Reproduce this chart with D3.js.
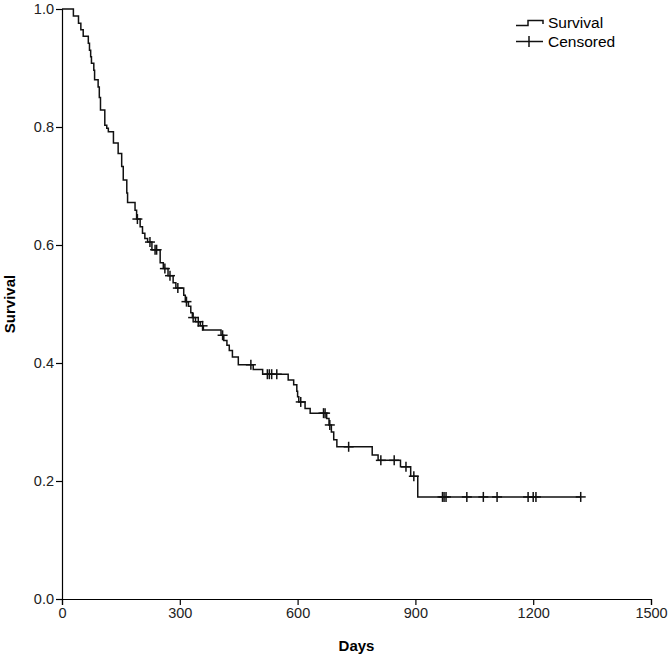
<!DOCTYPE html>
<html lang="en">
<head>
<meta charset="UTF-8">
<title>Survival curve</title>
<script src="https://d3js.org/d3.v7.min.js"></script>
<style>
    body { margin: 0; background: #fff; }
    svg { display: block; font-family: "Liberation Sans", Arial, sans-serif; }
    .axis path, .axis line { stroke: #000; stroke-width: 1.2; }
    .axis text { font-size: 14.5px; fill: #222; }
</style>
</head>
<body>
<svg id="chart" width="672" height="659"></svg>
<script>
// event times (days) and survival after each drop
var eventDays = [29, 42, 48, 54, 67, 70, 73, 75, 81, 83, 92, 95, 98, 109, 114, 118, 131, 143, 152, 156, 165, 167,
    186, 190, 199, 205, 211, 218, 229, 250, 258, 270, 283, 290, 310, 314, 322, 328, 332, 340, 352, 360,
    405, 412, 420, 426, 434, 449, 487, 511, 576, 590, 598, 600, 603, 619, 632, 674, 680, 686, 692, 700,
    790, 805, 862, 888, 906];
var eventSurv = [0.988, 0.976, 0.965, 0.954, 0.942, 0.930, 0.919, 0.908, 0.896, 0.880, 0.868, 0.850, 0.829, 0.803,
    0.798, 0.792, 0.773, 0.755, 0.733, 0.710, 0.688, 0.672, 0.659, 0.644, 0.631, 0.620, 0.611, 0.605, 0.592,
    0.570, 0.560, 0.548, 0.536, 0.527, 0.515, 0.504, 0.496, 0.485, 0.477, 0.470, 0.463, 0.456,
    0.447, 0.438, 0.430, 0.421, 0.410, 0.397, 0.389, 0.381, 0.371, 0.363, 0.352, 0.343, 0.334, 0.323, 0.315,
    0.306, 0.295, 0.283, 0.270, 0.258, 0.244, 0.235, 0.224, 0.208, 0.173];
var censorDays = [192, 224, 237, 241, 262, 275, 295, 317, 334, 347, 358, 409, 481, 523, 528, 534, 547, 608,
    666, 670, 682, 730, 812, 846, 876, 896, 969, 973, 978, 1031, 1073, 1108, 1187, 1200, 1207, 1321];
var xTicks = [0, 300, 600, 900, 1200, 1500];
var yTicks = [0, 0.2, 0.4, 0.6, 0.8, 1.0];

var margin = {top: 9, right: 21, bottom: 60, left: 62},
    width = 672 - margin.left - margin.right,
    height = 659 - margin.top - margin.bottom;

var svg = d3.select("#chart");
var g = svg.append("g").attr("transform", "translate(" + margin.left + "," + margin.top + ")");

var x = d3.scaleLinear().domain([0, 1500]).range([0, width]);
var y = d3.scaleLinear().domain([0, 1]).range([height, 0]);

// build step points: start at 1.0, add drops, extend to last censor
var pts = [{t: 0, s: 1}];
eventDays.forEach(function(t, i) { pts.push({t: t, s: eventSurv[i]}); });
var lastT = d3.max(censorDays);
pts.push({t: lastT, s: eventSurv[eventSurv.length - 1]});

function survAt(t) {
    var s = 1;
    for (var i = 0; i < eventDays.length; i++) {
        if (eventDays[i] <= t) s = eventSurv[i];
    }
    return s;
}

g.append("g").attr("class", "axis")
    .attr("transform", "translate(0," + height + ")")
    .call(d3.axisBottom(x).tickValues(xTicks).tickSize(6).tickPadding(3).tickFormat(d3.format("d")));
g.append("g").attr("class", "axis")
    .call(d3.axisLeft(y).tickValues(yTicks).tickSize(6).tickPadding(2).tickFormat(d3.format(".1f")));

g.append("text")
    .attr("x", width / 2).attr("y", height + 52)
    .attr("text-anchor", "middle")
    .style("font-size", "15px").style("font-weight", "bold")
    .text("Days");
g.append("text")
    .attr("transform", "rotate(-90)")
    .attr("x", -height / 2).attr("y", -47)
    .attr("text-anchor", "middle")
    .style("font-size", "15px").style("font-weight", "bold")
    .text("Survival");

var line = d3.line()
    .curve(d3.curveStepAfter)
    .x(function(d) { return x(d.t); })
    .y(function(d) { return y(d.s); });

g.append("path")
    .datum(pts)
    .attr("d", line)
    .attr("fill", "none")
    .attr("stroke", "#111")
    .attr("stroke-width", 1.5);

var cens = g.selectAll(".cens")
    .data(censorDays)
    .enter().append("g")
    .attr("class", "cens")
    .attr("transform", function(d) { return "translate(" + x(d) + "," + y(survAt(d)) + ")"; });
cens.append("line").attr("x1", 0).attr("x2", 0).attr("y1", -5).attr("y2", 5)
    .attr("stroke", "#111").attr("stroke-width", 1.5);
cens.append("line").attr("x1", -5).attr("x2", 5).attr("y1", 0).attr("y2", 0)
    .attr("stroke", "#111").attr("stroke-width", 1.5);

// legend
var lg = svg.append("g").attr("transform", "translate(516,0)");
lg.append("path")
    .attr("d", "M0,25.5H12V20.5H27V24")
    .attr("fill", "none").attr("stroke", "#111").attr("stroke-width", 1.5);
lg.append("text").attr("x", 32).attr("y", 28).style("font-size", "15.5px").text("Survival");
lg.append("line").attr("x1", 0).attr("x2", 27).attr("y1", 41.5).attr("y2", 41.5)
    .attr("stroke", "#111").attr("stroke-width", 1.5);
lg.append("line").attr("x1", 13).attr("x2", 13).attr("y1", 36).attr("y2", 47)
    .attr("stroke", "#111").attr("stroke-width", 1.5);
lg.append("text").attr("x", 32).attr("y", 47).style("font-size", "15.5px").text("Censored");
</script>
</body>
</html>
